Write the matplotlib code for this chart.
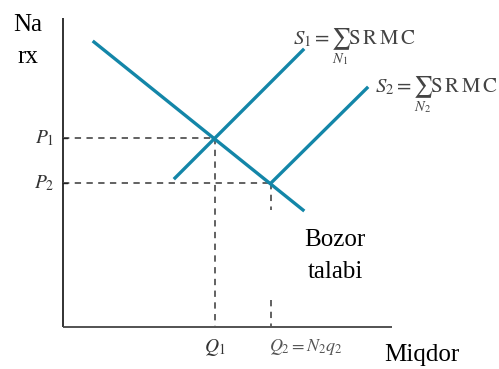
import matplotlib
matplotlib.use("Agg")
import matplotlib.pyplot as plt

plt.rcParams['mathtext.fontset'] = 'stix'
plt.rcParams['font.family'] = ['Liberation Serif', 'DejaVu Serif']

# Data (economic units, origin at axes corner)
demand_x = [31, 240]
demand_y = [285, 117]
s1_x = [112, 240]
s1_y = [149, 277]
s2_x = [208, 304]
s2_y = [144, 239]
P1, P2 = 189, 144
Q1, Q2 = 152, 208
axis_xmax, axis_ymax = 329, 309
q2_gap = (117, 27)  # dashed Q2 drop broken around the label

line_color = '#1386a8'
dash_color = '#555555'

fig = plt.figure(figsize=(4.99, 3.69), dpi=100)
ax = fig.add_axes([0, 0, 1, 1])
ax.set_xlim(-63, 436)
ax.set_ylim(-42, 327)
ax.axis('off')

# axes
ax.plot([0, 0], [0, axis_ymax], color='#222222', lw=1.3, solid_capstyle='butt')
ax.plot([0, axis_xmax], [0, 0], color='#444444', lw=1.3, solid_capstyle='butt')

# dashed guides
dkw = dict(color=dash_color, lw=1.3, dashes=(3.5, 3.0))
ax.plot([0, Q1], [P1, P1], **dkw)
ax.plot([0, Q2], [P2, P2], **dkw)
ax.plot([Q1, Q1], [P1, 0], **dkw)
ax.plot([Q2, Q2], [P2, q2_gap[0]], **dkw)
ax.plot([Q2, Q2], [q2_gap[1], 0], **dkw)
# tiny ticks on y axis
ax.plot([0, 4], [P1, P1], color='#222222', lw=1)
ax.plot([0, 4], [P2, P2], color='#222222', lw=1)

# curves
ax.plot(demand_x, demand_y, color=line_color, lw=2.4)
ax.plot(s1_x, s1_y, color=line_color, lw=2.4)
ax.plot(s2_x, s2_y, color=line_color, lw=2.4)

# labels
ax.text(-35, 286, 'Na\nrx', fontsize=18, ha='center', va='center', linespacing=1.55)
ax.text(272, 71, 'Bozor\ntalabi', fontsize=18, ha='center', va='center', linespacing=1.55)
ax.text(359, -28, 'Miqdor', fontsize=18, ha='center', va='center')

gray = '#333333'
ax.text(-9, P1, r'$P_1$', fontsize=14, ha='right', va='center', color=gray)
ax.text(-9, P2, r'$P_2$', fontsize=14, ha='right', va='center', color=gray)
ax.text(Q1, -20, r'$Q_1$', fontsize=14, ha='center', va='center', color=gray)
ax.text(243, -20, r'$Q_2 = N_2 q_2$', fontsize=13, ha='center', va='center', color='#555555')
ax.text(230, 281, r'$S_1 = \sum_{N_1}\mathrm{S\,R\,M\,C}$', fontsize=15, ha='left', va='center', color='#444444')
ax.text(312, 233, r'$S_2 = \sum_{N_2}\mathrm{S\,R\,M\,C}$', fontsize=15, ha='left', va='center', color='#444444')

fig.savefig('out.png', dpi=100)
